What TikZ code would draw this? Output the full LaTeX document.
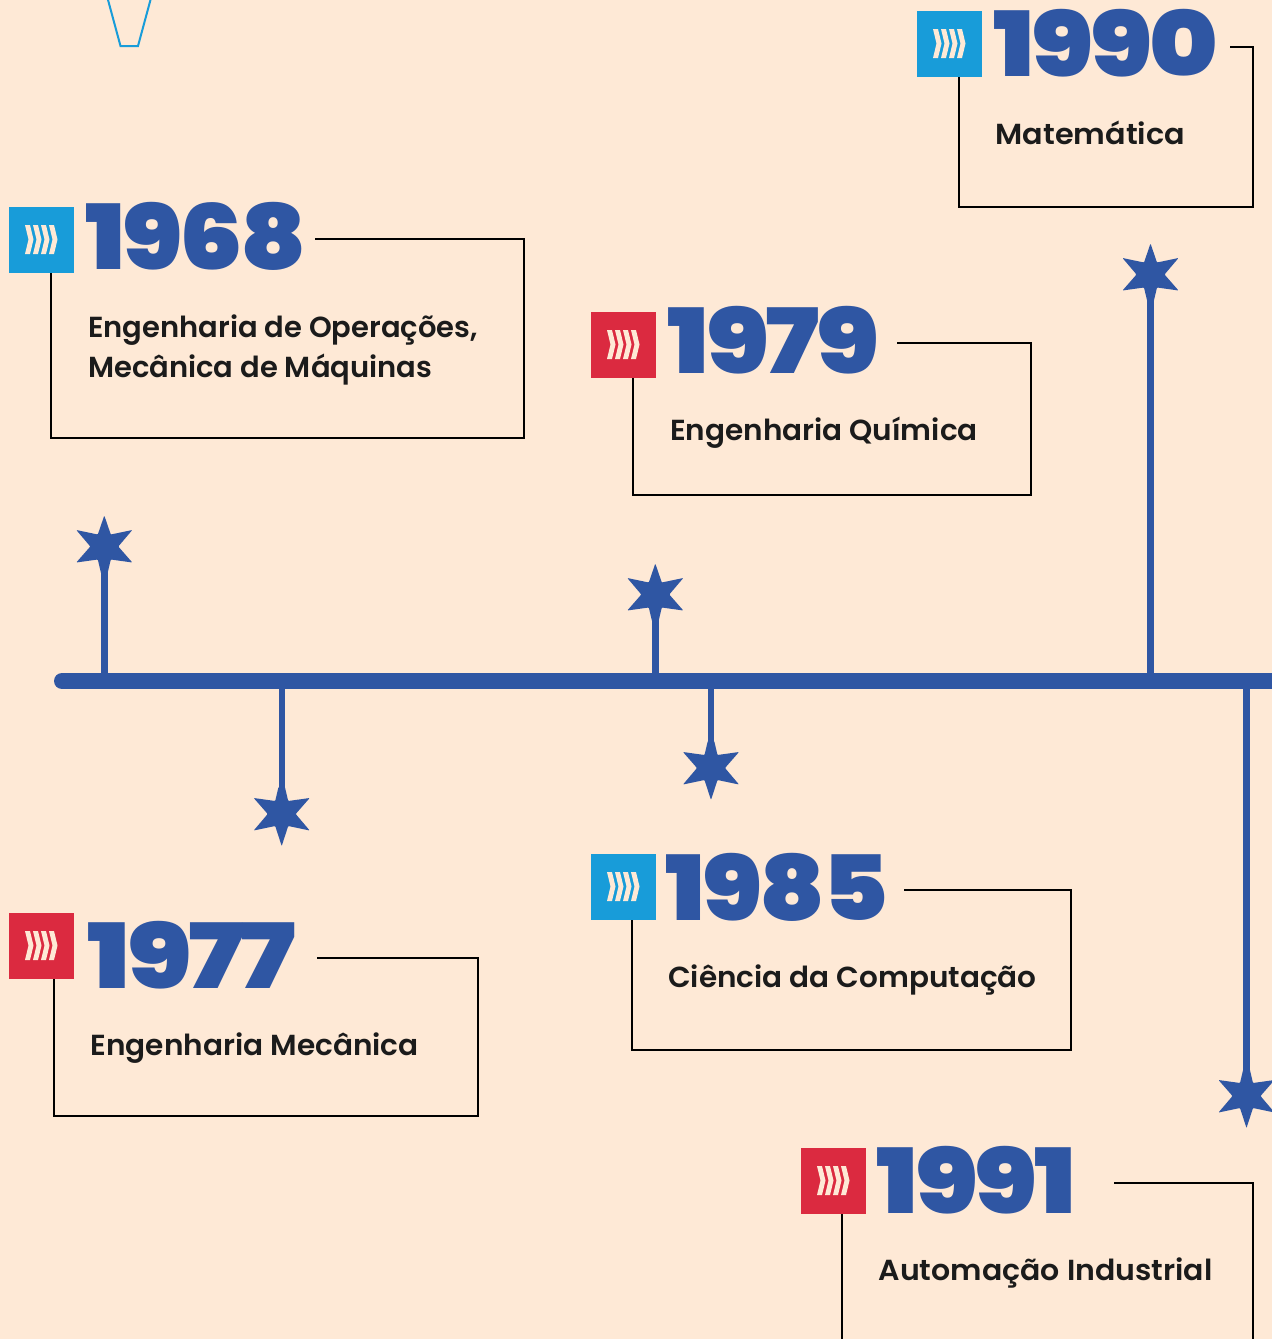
\documentclass[tikz,border=0pt]{standalone}
\usepackage{graphicx}
\usepackage{fontspec}
\newfontfamily\yearfont{Poppins}[UprightFont=* Black,LetterSpace=-3]
\newfontfamily\labelfont{Poppins}[UprightFont=* SemiBold]
\definecolor{bgc}{HTML}{FEE9D6}
\definecolor{navy}{HTML}{2F56A3}
\definecolor{cyanc}{HTML}{189CD9}
\definecolor{redc}{HTML}{DB2A40}
\definecolor{ink}{HTML}{1B1B1B}
\newcommand{\yr}[2]{\scalebox{#1}[1]{#2}}
\tikzset{
  yearlabel/.style={anchor=base west,inner sep=0pt,text=navy,font=\yearfont\fontsize{90}{90}\selectfont},
  topic/.style={anchor=base west,inner sep=0pt,text=ink,align=left,font=\labelfont\fontsize{29}{40}\selectfont},
  frame/.style={draw=black,line width=1.6pt},
  badge/.style={anchor=north west,minimum width=65pt,minimum height=66pt,inner sep=0pt,fill=#1},
  axisline/.style={draw=navy,line width=16pt},
  stem/.style={draw=navy,line width=6.4pt},
  pics/chev/.style={code={
    \foreach \i in {0,8,16,24}{
      \fill[bgc] (16+\i,18) -- (21+\i,18) -- (24.5+\i,32.5) -- (21+\i,47) -- (16+\i,47) -- (19.5+\i,32.5) -- cycle;}
  }},
  pics/starup/.style={code={
    \fill[navy,rounded corners=0.8pt] (0,-30) -- (6.5,-11) -- (28,-15.5) -- (14,1) -- (28,17) -- (6.5,14) -- (3.2,28) -- (-3.2,28) -- (-6.5,14) -- (-28,17) -- (-14,1) -- (-28,-15.5) -- (-6.5,-11) -- cycle;
  }},
  pics/stardown/.style={code={
    \fill[navy,rounded corners=0.8pt] (0,31) -- (6.5,11) -- (28,15.5) -- (14,-1) -- (28,-17) -- (6.5,-14) -- (3.2,-28) -- (-3.2,-28) -- (-6.5,-14) -- (-28,-17) -- (-14,-1) -- (-28,15.5) -- (-6.5,11) -- cycle;
  }},
}
\begin{document}
\begin{tikzpicture}[x=1pt,y=-1pt]
\useasboundingbox (0,0) rectangle (1272,1339);
\fill[bgc] (0,0) rectangle (1272,1339);
\clip (0,0) rectangle (1272,1339);
% funnel fragment
\draw[cyanc,line width=2pt] (107.5,-2) -- (120.5,46) -- (138,46) -- (151,-2);
% axis
\coordinate (axisL) at (62,681);
\coordinate (axisR) at (1290,681);
\draw[axisline,line cap=round] (axisL) -- (axisR);
% stars
\coordinate (s1) at (104.3,545.5);
\coordinate (s2) at (655.3,593.5);
\coordinate (s3) at (1150.5,273.5);
\coordinate (s4) at (281.7,815);
\coordinate (s5) at (711,769);
\coordinate (s6) at (1246.5,1097);
\draw[stem] (s1) -- (s1 |- axisL);
\draw[stem] (s2) -- (s2 |- axisL);
\draw[stem] (s3) -- (s3 |- axisL);
\draw[stem] (s4) -- (s4 |- axisL);
\draw[stem] (s5) -- (s5 |- axisL);
\draw[stem] (s6) -- (s6 |- axisL);
\pic at (s1) {starup};
\pic at (s2) {starup};
\pic at (s3) {starup};
\pic at (s4) {stardown};
\pic at (s5) {stardown};
\pic at (s6) {stardown};
% 1968
\node[badge=cyanc] (b68) at (9,207) {};
\pic at (9,207) {chev};
\node[yearlabel] (y68) at (85,269.5) {\yr{1.12}{1968}};
\draw[frame] (315,239) -- (524,239) -- (524,438) -- (51,438) -- (51,273);
\node[topic] (t68) at (88,377) {Engenharia de Operações,\\Mecânica de Máquinas};
% 1979
\node[badge=redc] (b79) at (591,312) {};
\pic at (591,312) {chev};
\node[yearlabel] (y79) at (667,373.5) {\yr{1.17}{1979}};
\draw[frame] (897,343) -- (1031,343) -- (1031,495) -- (633,495) -- (633,378);
\node[topic] (t79) at (670,440) {\scalebox{1.017}[1]{Engenharia Química}};
% 1990
\node[badge=cyanc] (b90) at (917,11) {};
\pic at (917,11) {chev};
\node[yearlabel] (y90) at (993,76.5) {\yr{1.155}{1990}};
\draw[frame] (1230,47) -- (1253,47) -- (1253,207) -- (959,207) -- (959,77);
\node[topic] (t90) at (995.5,144) {\scalebox{1.044}[1]{Matemática}};
% 1977
\node[badge=redc] (b77) at (9,913) {};
\pic at (9,913) {chev};
\node[yearlabel] (y77) at (87,988) {\yr{1.20}{1977}};
\draw[frame] (317,958) -- (478,958) -- (478,1116) -- (54,1116) -- (54,979);
\node[topic] (t77) at (90.5,1055) {\scalebox{1.019}[1]{Engenharia Mecânica}};
% 1985
\node[badge=cyanc] (b85) at (591,854) {};
\pic at (591,854) {chev};
\node[yearlabel] (y85) at (665,920) {\yr{1.115}{1985}};
\draw[frame] (904,890) -- (1071,890) -- (1071,1050) -- (632,1050) -- (632,920);
\node[topic] (t85) at (668,987) {\scalebox{1.017}[1]{Ciência da Computação}};
% 1991
\node[badge=redc] (b91) at (801,1148) {};
\pic at (801,1148) {chev};
\node[yearlabel] (y91) at (876,1213) {\yr{1.17}{1991}};
\draw[frame] (1114,1183) -- (1253,1183) -- (1253,1345) (842.2,1345) -- (842.2,1214);
\node[topic] (t91) at (878.5,1280) {\scalebox{1.034}[1]{Automação Industrial}};
\end{tikzpicture}
\end{document}
